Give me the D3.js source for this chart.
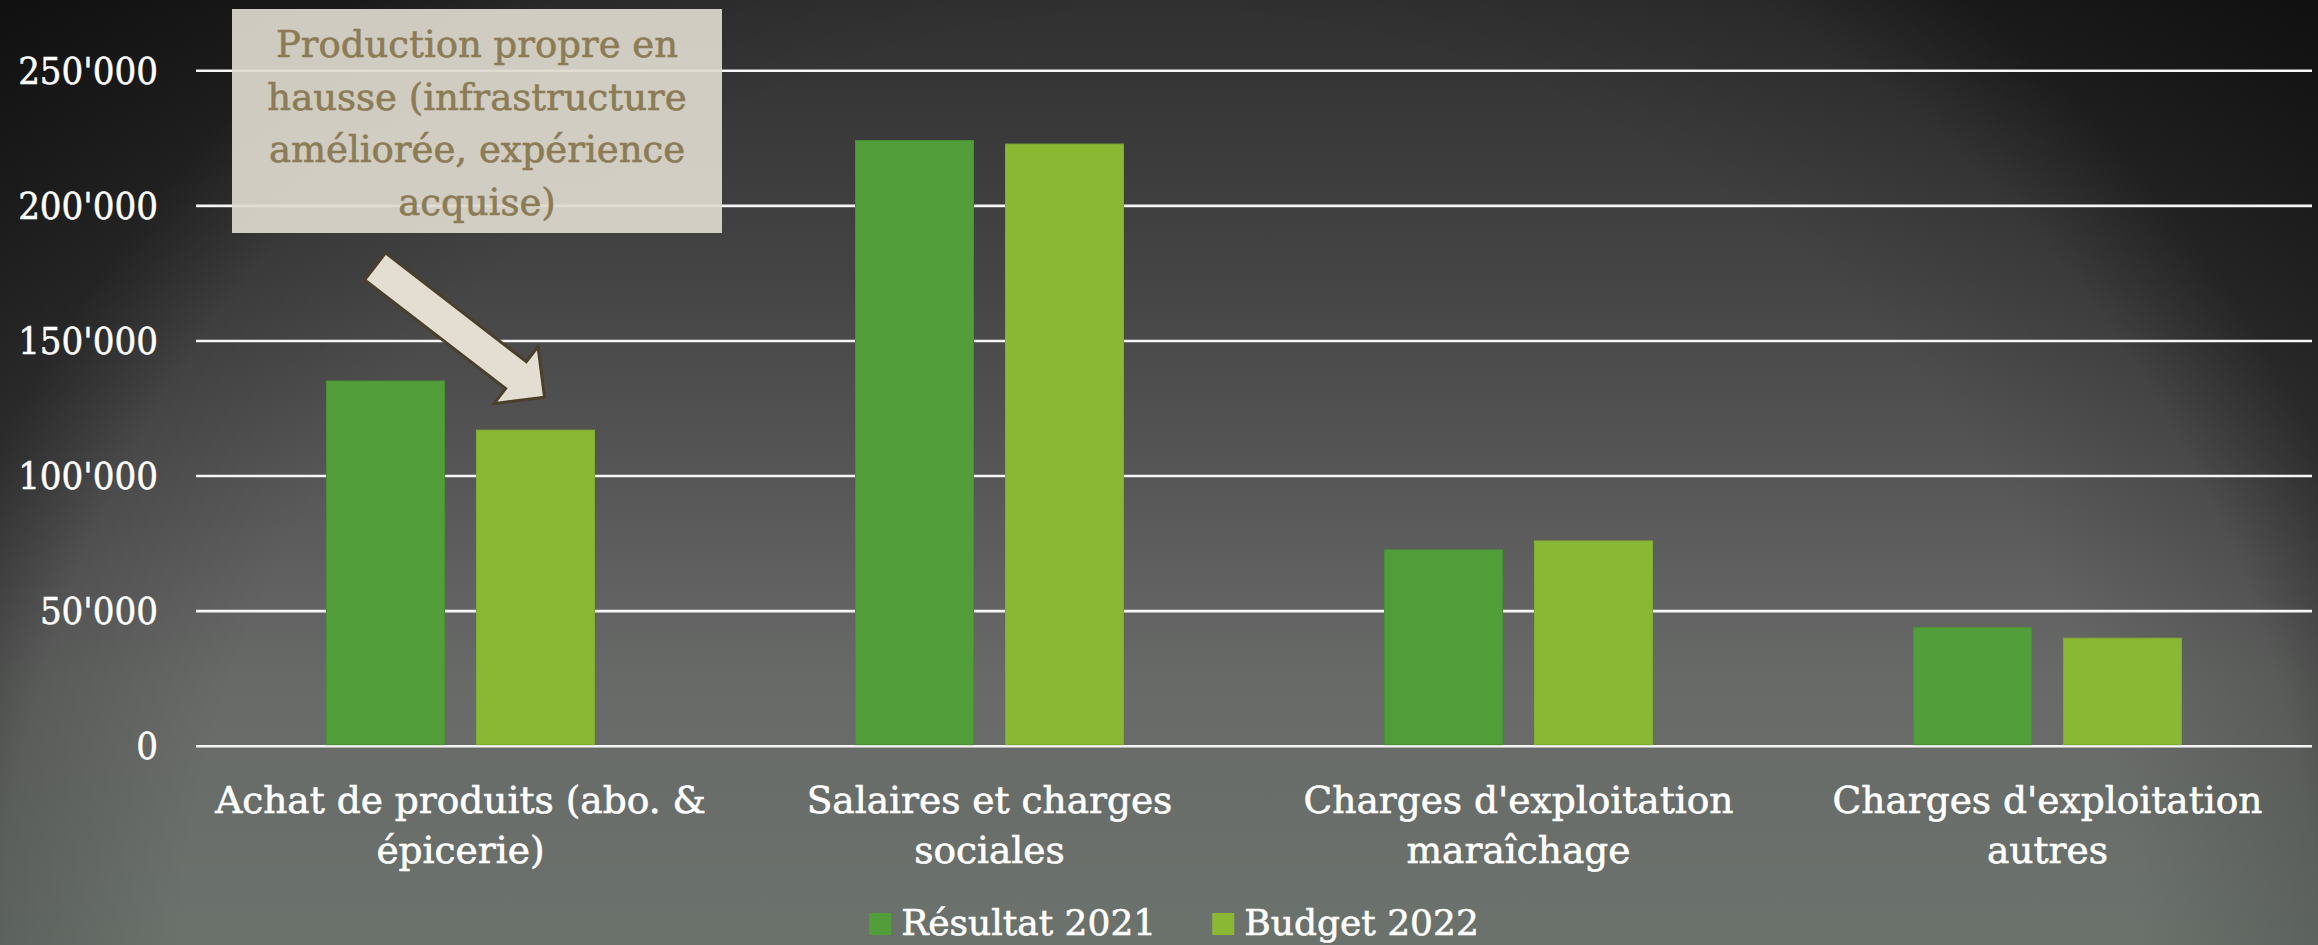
<!DOCTYPE html>
<html>
<head>
<meta charset="utf-8">
<script src="https://cdn.jsdelivr.net/npm/d3@7"></script>
<style>
  html, body { margin: 0; padding: 0; background: #222; overflow: hidden; }
  svg { display: block; }
  text { font-family: "DejaVu Serif", serif; }
  .cond { font-family: "DejaVu Serif Condensed", "DejaVu Serif", serif; font-stretch: condensed; }
</style>
</head>
<body>
<svg id="chart" width="2318" height="945"></svg>
<script>
// ---- data ----
const categories = [
  "Achat de produits (abo. & épicerie)",
  "Salaires et charges sociales",
  "Charges d'exploitation maraîchage",
  "Charges d'exploitation autres"
];
const categoryLines = [
  ["Achat de produits (abo. &", "épicerie)"],
  ["Salaires et charges", "sociales"],
  ["Charges d'exploitation", "maraîchage"],
  ["Charges d'exploitation", "autres"]
];
const seriesNames = ["Résultat 2021", "Budget 2022"];
const resultat2021 = [135000, 224000, 72500, 43800];
const budget2022 = [116800, 222700, 75800, 39800];
const yTicks = [0, 50000, 100000, 150000, 200000, 250000];
const seriesColors = ["#529e3a", "#8ab835"];
const seriesStroke = ["#4b9036", "#80ab33"];
const annotationLines = ["Production propre en", "hausse (infrastructure", "améliorée, expérience", "acquise)"];

// ---- setup ----
const W = 2318, H = 945;
const svg = d3.select("#chart");
const defs = svg.append("defs");

// background
const bg = defs.append("linearGradient").attr("id", "bgLin")
  .attr("gradientUnits", "userSpaceOnUse").attr("x1", 0).attr("y1", 0).attr("x2", 0).attr("y2", H);
[[0, "#303030"], [0.3, "#454545"], [0.5, "#565656"], [0.72, "#686a68"], [1, "#6b726c"]]
  .forEach(([o, c]) => bg.append("stop").attr("offset", o).attr("stop-color", c));
const vig = defs.append("radialGradient").attr("id", "bgVig")
  .attr("gradientUnits", "userSpaceOnUse").attr("cx", 1159).attr("cy", 1000).attr("r", 1530);
[[0, 0], [0.64, 0], [0.76, 0.14], [0.84, 0.48], [1, 0.66]]
  .forEach(([o, a]) => vig.append("stop").attr("offset", o).attr("stop-color", "#000").attr("stop-opacity", a));
svg.append("rect").attr("width", W).attr("height", H).attr("fill", "url(#bgLin)");
svg.append("rect").attr("width", W).attr("height", H).attr("fill", "url(#bgVig)");

// scales
const plot = { left: 196, right: 2312, top: 70.3, bottom: 745.7 };
const y = d3.scaleLinear().domain([0, 250000]).range([plot.bottom, plot.top]);
const x0 = d3.scaleBand().domain(categories).range([plot.left, plot.right])
  .paddingInner(0.4934).paddingOuter(0.2467);
const x1 = d3.scaleBand().domain(seriesNames).range([0, x0.bandwidth()]).paddingInner(0.213).paddingOuter(0);

const fmt = d3.formatLocale({ decimal: ".", thousands: "'", grouping: [3], currency: ["", ""] }).format(",");

// gridlines + y labels
const yAxis = d3.axisLeft(y).tickValues(yTicks).tickSize(-(plot.right - plot.left)).tickFormat(fmt).tickPadding(38);
const gy = svg.append("g").attr("transform", `translate(${plot.left},0)`).call(yAxis);
gy.select(".domain").remove();
gy.selectAll(".tick line").attr("stroke", "#f6f6f6").attr("stroke-width", 2.6);
gy.selectAll(".tick text").attr("class", "cond").attr("fill", "#ffffff").attr("font-size", 38)
  .attr("font-family", null).attr("dy", "0.34em")
  .attr("stroke", "#ffffff").attr("stroke-width", 0.5);

// bars
const data = categories.map((c, i) => ({ cat: c, values: [resultat2021[i], budget2022[i]] }));
const groups = svg.append("g").selectAll("g").data(data).join("g")
  .attr("transform", d => `translate(${x0(d.cat)},0)`);
groups.selectAll("rect").data(d => d.values.map((v, k) => ({ s: seriesNames[k], v, k })))
  .join("rect")
  .attr("x", d => x1(d.s))
  .attr("width", x1.bandwidth())
  .attr("y", d => y(d.v))
  .attr("height", d => y(0) - y(d.v) - 1)
  .attr("fill", d => seriesColors[d.k])
  .attr("stroke", d => seriesStroke[d.k])
  .attr("stroke-width", 1);

// category labels
const xl = svg.append("g");
categories.forEach((c, i) => {
  const cx = x0(c) + x0.bandwidth() / 2;
  const t = xl.append("text")
    .attr("x", cx)
    .attr("y", 813)
    .attr("text-anchor", "middle")
    .attr("fill", "#ffffff")
    .attr("stroke", "#ffffff").attr("stroke-width", 0.6)
    .attr("font-size", 37.5);
  categoryLines[i].forEach((ln, j) => {
    t.append("tspan").attr("x", cx).attr("dy", j === 0 ? 0 : 50).text(ln);
  });
});

// legend
const legend = svg.append("g");
let cursor = 0;
seriesNames.forEach((s, k) => {
  const g = legend.append("g");
  g.append("rect").attr("x", 0).attr("y", -22).attr("width", 22).attr("height", 22).attr("fill", seriesColors[k]);
  const t = g.append("text").attr("x", 32).attr("y", 0).attr("fill", "#fff")
    .attr("stroke", "#ffffff").attr("stroke-width", 0.6)
    .attr("font-size", 36).text(s);
  const w = 32 + t.node().getComputedTextLength();
  g.attr("transform", `translate(${cursor},0)`);
  cursor += w + 56;
});
const legendW = cursor - 56;
legend.attr("transform", `translate(${1174 - legendW / 2},935)`);

// annotation box
const box = { x: 232, y: 9, w: 490, h: 224 };
svg.append("rect").attr("x", box.x).attr("y", box.y).attr("width", box.w).attr("height", box.h)
  .attr("fill", "rgb(222,218,206)").attr("fill-opacity", 0.92);
const at = svg.append("text").attr("text-anchor", "middle").attr("fill", "#8b7c55")
  .attr("stroke", "#8b7c55").attr("stroke-width", 0.6).attr("font-size", 37);
annotationLines.forEach((ln, j) => {
  at.append("tspan").attr("x", box.x + box.w / 2).attr("y", 57 + j * 52.5).text(ln);
});

// arrow pointing at the budget 2022 bar of the first category
const tipX = x0(categories[0]) + x1(seriesNames[1]) + x1.bandwidth() / 2 + 9;
const tipY = y(budget2022[0]) - 33;
const ang = Math.atan2(130.6, 169.2);
const L = 214, sh = 17, hh = 36, hl = 36;
const local = [[0, -sh], [L - hl, -sh], [L - hl, -hh], [L, 0], [L - hl, hh], [L - hl, sh], [0, sh]];
const tailX = tipX - L * Math.cos(ang), tailY = tipY - L * Math.sin(ang);
const pts = local.map(([u, v]) => [tailX + u * Math.cos(ang) - v * Math.sin(ang), tailY + u * Math.sin(ang) + v * Math.cos(ang)]);
svg.append("path").attr("d", d3.line()(pts) + "Z")
  .attr("fill", "#e3ddd2").attr("stroke", "#4a3f2a").attr("stroke-width", 3).attr("stroke-linejoin", "miter");
</script>
</body>
</html>
